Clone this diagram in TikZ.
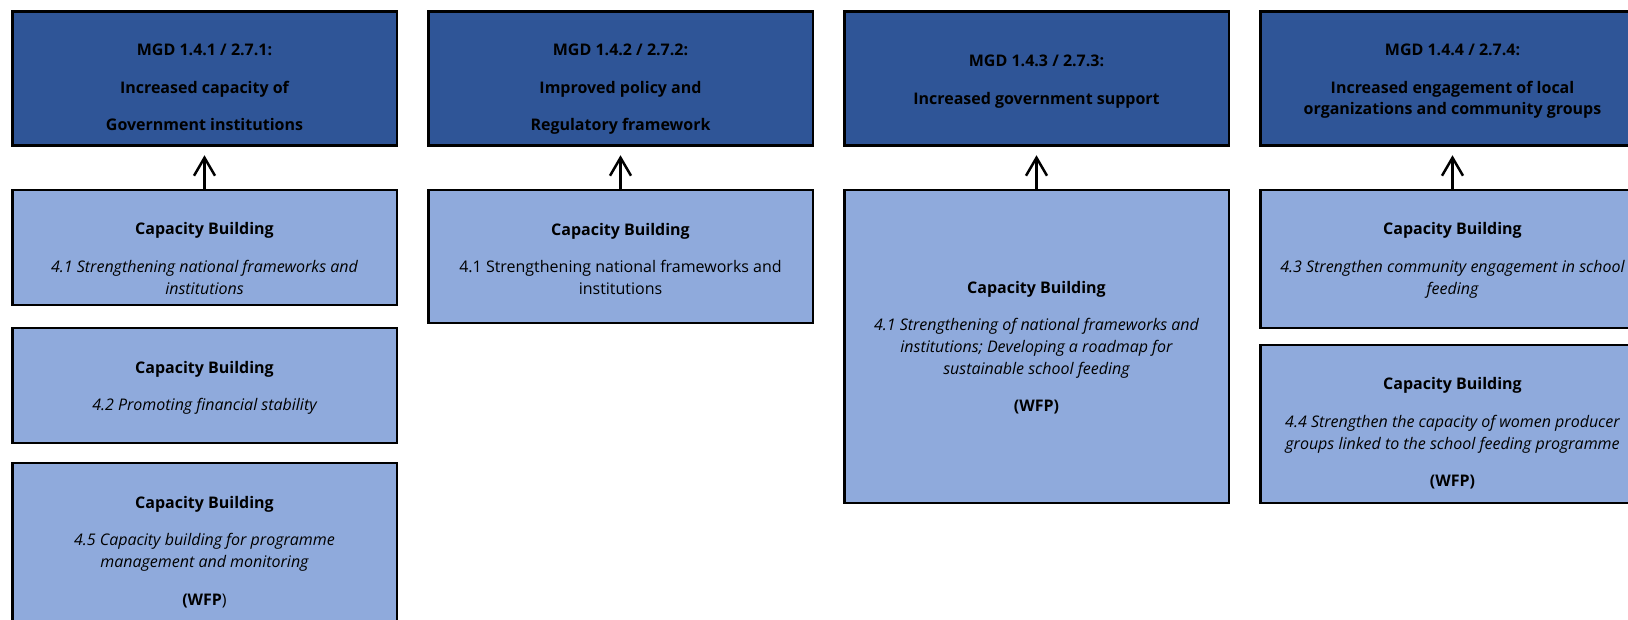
\documentclass[tikz,border=0pt]{standalone}
\usepackage{fontspec}
\setmainfont{Open Sans}
\usepackage{xcolor}
\usepackage{tikz}
\usetikzlibrary{positioning,arrows.meta}

\definecolor{goalblue}{HTML}{2F5597}
\definecolor{capblue}{HTML}{8FAADC}

\tikzset{
	goalbox/.style={draw=black, line width=2.5pt, fill=goalblue, minimum width=384.5pt, minimum height=134pt, inner sep=0pt},
	capbox/.style={draw=black, line width=2.5pt, fill=capblue, minimum width=384.5pt, inner sep=0pt},
	boxtext/.style={align=center, inner sep=0pt, font=\fontsize{16}{21.7}\selectfont},
	goaltext/.style={boxtext, font=\fontsize{16}{21.7}\selectfont\bfseries},
	uparrow/.style={line width=2.5pt, -{Straight Barb[length=18pt,width=21pt]}, shorten >=8.5pt}
}

\begin{document}
\begin{tikzpicture}[x=1pt,y=-1pt]
			\useasboundingbox (0,0) rectangle (1628,619);
			\clip (0,0) rectangle (1628,619);
			\fill[white] (0,0) rectangle (1628,619);

			% goals
			\node[goalbox] (goalA) at (204.5,78.5) {};
			\node[goalbox] (goalB) at (620.5,78.5) {};
			\node[goalbox] (goalC) at (1036.5,78.5) {};
			\node[goalbox] (goalD) at (1452.5,78.5) {};

			\node[goaltext, below=29.8pt of goalA.north] (goalAtext)
			{\strut MGD 1.4.1 / 2.7.1:\\[16pt] Increased capacity of\\[16pt] Government institutions};
			\node[goaltext, below=29.8pt of goalB.north] (goalBtext)
			{\strut MGD 1.4.2 / 2.7.2:\\[16pt] Improved policy and\\[16pt] Regulatory framework};
			\node[goaltext, below=40.8pt of goalC.north] (goalCtext)
			{\strut MGD 1.4.3 / 2.7.3:\\[16pt] Increased government support};
			\node[goaltext, below=29.8pt of goalD.north] (goalDtext)
			{\strut MGD 1.4.4 / 2.7.4:\\[16pt] Increased engagement of local\\ organizations and community groups};

			% capacity building
			\node[capbox, minimum height=115pt] (capA1) at (204.5,247.5) {};
			\node[capbox, minimum height=115pt] (capB1) at (204.5,385.5) {};
			\node[capbox, minimum height=177pt] (capC1) at (204.5,551.5) {};
			\node[capbox, minimum height=133pt] (capA2) at (620.5,256.5) {};
			\node[capbox, minimum height=313pt] (capA3) at (1036.5,346.5) {};
			\node[capbox, minimum height=138pt] (capA4) at (1452.5,259) {};
			\node[capbox, minimum height=158pt] (capB4) at (1452.5,424) {};

			\node[boxtext, below=30.5pt of capA1.north] (capA1text)
			{\strut\textbf{Capacity Building}\\[16pt] \itshape 4.1 Strengthening national frameworks and\\ \itshape institutions};
			\node[boxtext, below=31pt of capB1.north] (capB1text)
			{\strut\textbf{Capacity Building}\\[16pt] \itshape 4.2 Promoting financial stability};
			\node[boxtext, below=31pt of capC1.north] (capC1text)
			{\strut\textbf{Capacity Building}\\[16pt] \itshape 4.5 Capacity building for programme\\ \itshape management and monitoring\\[16pt] \textbf{(WFP})};
			\node[boxtext, below=31pt of capA2.north] (capA2text)
			{\strut\textbf{Capacity Building}\\[16pt] 4.1 Strengthening national frameworks and\\ institutions};
			\node[boxtext, below=89pt of capA3.north] (capA3text)
			{\strut\textbf{Capacity Building}\\[16pt] \itshape 4.1 Strengthening of national frameworks and\\ \itshape institutions; Developing a roadmap for\\ \itshape sustainable school feeding\\[16pt] \textbf{(WFP)}};
			\node[boxtext, below=30.5pt of capA4.north] (capA4text)
			{\strut\textbf{Capacity Building}\\[16pt] \itshape 4.3 Strengthen community engagement in school\\ \itshape feeding};
			\node[boxtext, below=30.5pt of capB4.north] (capB4text)
			{\strut\textbf{Capacity Building}\\[16pt] \itshape 4.4 Strengthen the capacity of women producer\\ \itshape groups linked to the school feeding programme\\[16pt] \textbf{(WFP)}};

			% arrows
			\draw[uparrow] (capA1.north) -- (goalA.south);
			\draw[uparrow] (capA2.north) -- (goalB.south);
			\draw[uparrow] (capA3.north) -- (goalC.south);
			\draw[uparrow] (capA4.north) -- (goalD.south);
		\end{tikzpicture}
\end{document}
